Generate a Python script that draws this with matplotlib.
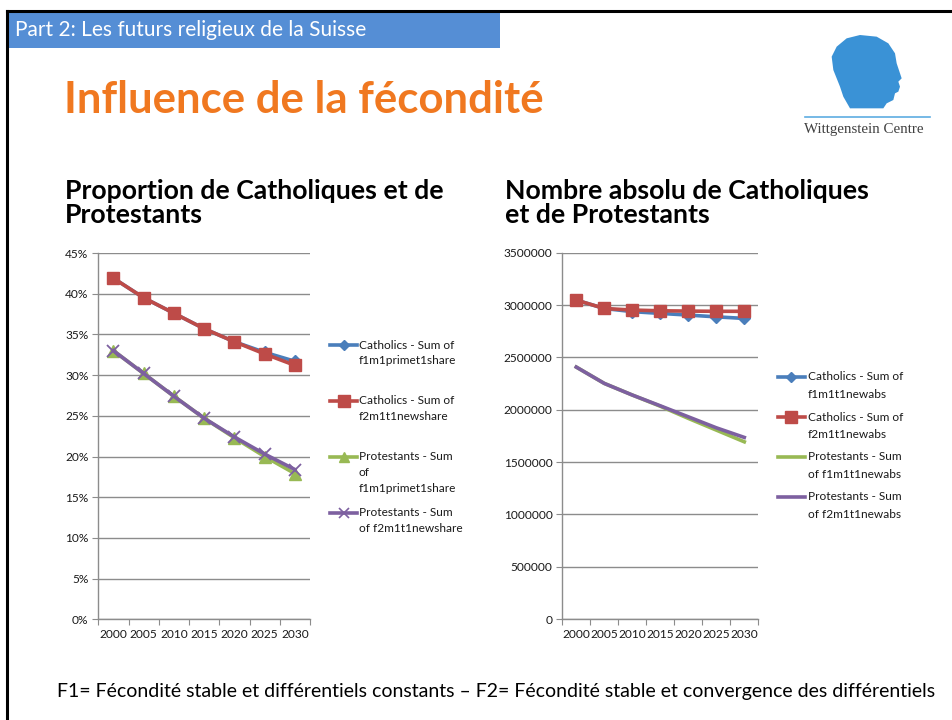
import matplotlib
matplotlib.use("Agg")
import matplotlib.pyplot as plt
from matplotlib.lines import Line2D
from matplotlib.patches import Rectangle, Polygon
from matplotlib.ticker import FuncFormatter, FixedLocator

plt.rcParams['font.family'] = ['Lato', 'DejaVu Sans']

years = ["2000", "2005", "2010", "2015", "2020", "2025", "2030"]

# Left chart: shares (%)
cath_f1_share = [41.9, 39.5, 37.6, 35.7, 34.1, 32.8, 31.7]
cath_f2_share = [41.9, 39.5, 37.6, 35.7, 34.1, 32.6, 31.2]
prot_f1_share = [33.0, 30.2, 27.4, 24.7, 22.3, 20.0, 17.9]
prot_f2_share = [33.0, 30.2, 27.4, 24.7, 22.4, 20.3, 18.4]

# Right chart: absolute numbers
cath_f1_abs = [3047000, 2967000, 2937000, 2920000, 2904000, 2887000, 2872000]
cath_f2_abs = [3047000, 2967000, 2952000, 2945000, 2942000, 2940000, 2940000]
prot_f1_abs = [2407000, 2251000, 2140000, 2033000, 1917000, 1805000, 1693000]
prot_f2_abs = [2407000, 2251000, 2140000, 2037000, 1932000, 1827000, 1735000]

left_labels = ["Catholics - Sum of\nf1m1primet1share",
               "Catholics - Sum of\nf2m1t1newshare",
               "Protestants - Sum\nof\nf1m1primet1share",
               "Protestants - Sum\nof f2m1t1newshare"]
right_labels = ["Catholics - Sum of\nf1m1t1newabs",
                "Catholics - Sum of\nf2m1t1newabs",
                "Protestants - Sum\nof f1m1t1newabs",
                "Protestants - Sum\nof f2m1t1newabs"]

BLUE = "#4A7EBB"
RED = "#BE4B48"
GREEN = "#98B954"
PURPLE = "#7D60A0"
GRID = "#8C8C8C"
TXT = "#1A1A1A"

W, H = 953, 720
fig = plt.figure(figsize=(W / 100, H / 100), dpi=100)
fig.patch.set_facecolor("white")


def fx(x):
    return x / W


def fy(y):
    return 1 - y / H


# slide border
fig.add_artist(Line2D([fx(6.5), fx(953)], [fy(10.5), fy(10.5)], color="black", lw=2.2))
fig.add_artist(Line2D([fx(6.5), fx(6.5)], [fy(10.5), fy(720)], color="black", lw=2.2))

# header band
fig.add_artist(Rectangle((fx(7.5), fy(48)), fx(500) - fx(7.5), fy(11.5) - fy(48),
                         transform=fig.transFigure, facecolor="#558ED5", edgecolor="none"))
fig.text(fx(15), fy(30), "Part 2: Les futurs religieux de la Suisse", color="white",
         fontsize=15, va="center", ha="left")

# main title
fig.text(fx(64), fy(100), "Influence de la fécondité", color="#F07820", fontsize=31.5,
         fontweight="bold", va="center", ha="left")

# logo
head_pts = [(150, 265), (130, 230), (120, 200), (100, 150), (95, 110), (110, 80), (140, 55),
            (180, 45), (230, 50), (265, 70), (285, 100), (290, 130), (300, 160), (305, 175),
            (295, 185), (300, 200), (295, 215), (285, 220), (280, 240), (260, 250), (250, 265)]
head = Polygon([(fx(px / 3 + 800), fy(py / 3 + 20)) for px, py in head_pts],
               closed=True, transform=fig.transFigure, facecolor="#3A92D6", edgecolor="none")
fig.add_artist(head)
fig.add_artist(Line2D([fx(805), fx(930)], [fy(117), fy(117)], color="#5DADE2", lw=1.2))
fig.text(fx(864), fy(129), "Wittgenstein Centre", family=["Liberation Serif", "DejaVu Serif"],
         fontsize=10.8, color="#404040", ha="center", va="center")

# chart titles
fig.text(fx(65), fy(203), "Proportion de Catholiques et de\nProtestants", fontsize=19.2,
         fontweight="bold", color="black", va="center", ha="left", linespacing=1.02)
fig.text(fx(505), fy(203), "Nombre absolu de Catholiques\net de Protestants", fontsize=19.2,
         fontweight="bold", color="black", va="center", ha="left", linespacing=1.02)


def style_axes(ax, ymax, step, fmt):
    x = list(range(len(years)))
    ax.set_xlim(-0.5, len(years) - 0.5)
    ax.set_ylim(0, ymax)
    ax.set_yticks([i * step for i in range(int(round(ymax / step)) + 1)])
    ax.yaxis.set_major_formatter(FuncFormatter(fmt))
    ax.xaxis.set_major_locator(FixedLocator([i - 0.5 for i in range(len(years) + 1)]))
    ax.xaxis.set_minor_locator(FixedLocator(x))
    ax.set_xticklabels([""] * (len(years) + 1))
    ax.set_xticklabels(years, minor=True)
    ax.tick_params(axis="x", which="major", length=4, color=GRID, direction="out")
    ax.tick_params(axis="x", which="minor", length=0, pad=7, labelsize=8.6, labelcolor=TXT)
    ax.tick_params(axis="y", length=4, color=GRID, direction="out", labelsize=8.6,
                   labelcolor=TXT, pad=3)
    ax.grid(axis="y", color=GRID, lw=1.0)
    ax.set_axisbelow(True)
    for s in ("top", "right"):
        ax.spines[s].set_visible(False)
    for s in ("left", "bottom"):
        ax.spines[s].set_color(GRID)
        ax.spines[s].set_linewidth(1.0)
    ax.set_facecolor("none")


# left chart
axL = fig.add_axes([fx(98.3), fy(619.3), fx(310) - fx(98.3), fy(253) - fy(619.3)])
xs = list(range(len(years)))
axL.plot(xs, cath_f1_share, color=BLUE, lw=2.6, marker="D", ms=6, mec=BLUE, mfc=BLUE)
axL.plot(xs, cath_f2_share, color=RED, lw=2.6, marker="s", ms=8, mec=RED, mfc=RED)
axL.plot(xs, prot_f1_share, color=GREEN, lw=2.6, marker="^", ms=8, mec=GREEN, mfc=GREEN)
axL.plot(xs, prot_f2_share, color=PURPLE, lw=2.6, marker="x", ms=8, mew=1.3, mec=PURPLE)
style_axes(axL, 45, 5, lambda v, p: f"{v:.0f}%")

# right chart
axR = fig.add_axes([fx(562.3), fy(619), fx(758.3) - fx(562.3), fy(252.7) - fy(619)])
axR.plot(xs, cath_f1_abs, color=BLUE, lw=2.6, marker="D", ms=6, mec=BLUE, mfc=BLUE)
axR.plot(xs, cath_f2_abs, color=RED, lw=2.6, marker="s", ms=8, mec=RED, mfc=RED)
axR.plot(xs, prot_f1_abs, color=GREEN, lw=2.6)
axR.plot(xs, prot_f2_abs, color=PURPLE, lw=2.6)
style_axes(axR, 3500000, 500000, lambda v, p: f"{v:.0f}")

# legends (manual)
left_styles = [dict(color=BLUE, marker="D", ms=5),
               dict(color=RED, marker="s", ms=8),
               dict(color=GREEN, marker="^", ms=7),
               dict(color=PURPLE, marker="x", ms=7, mew=1.2)]
right_styles = [dict(color=BLUE, marker="D", ms=5),
                dict(color=RED, marker="s", ms=8),
                dict(color=GREEN),
                dict(color=PURPLE)]


def draw_legend(x0, x1, xt, ys, labels, styles, lsp):
    for y, lab, st in zip(ys, labels, styles):
        st = dict(st)
        col = st.pop("color")
        fig.add_artist(Line2D([fx(x0), fx(x1)], [fy(y), fy(y)], color=col, lw=2.6))
        if "marker" in st:
            fig.add_artist(Line2D([fx((x0 + x1) / 2)], [fy(y)], color=col, mfc=col, mec=col,
                                  linestyle="none", **st))
        for k, line in enumerate(lab.split("\n")):
            fig.text(fx(xt), fy(y + k * lsp), line, fontsize=8.6, color=TXT, va="center",
                     ha="left")


draw_legend(330, 357, 359, [345, 401, 457, 513], left_labels, left_styles, 15.8)
draw_legend(778, 805, 808, [377, 417, 457, 497], right_labels, right_styles, 17)

# footnote
fig.text(fx(57), fy(692),
         "F1= Fécondité stable et différentiels constants – F2= Fécondité stable et convergence des différentiels",
         fontsize=14.0, color="black", va="center", ha="left")

fig.savefig("out.png", dpi=100, facecolor="white")
